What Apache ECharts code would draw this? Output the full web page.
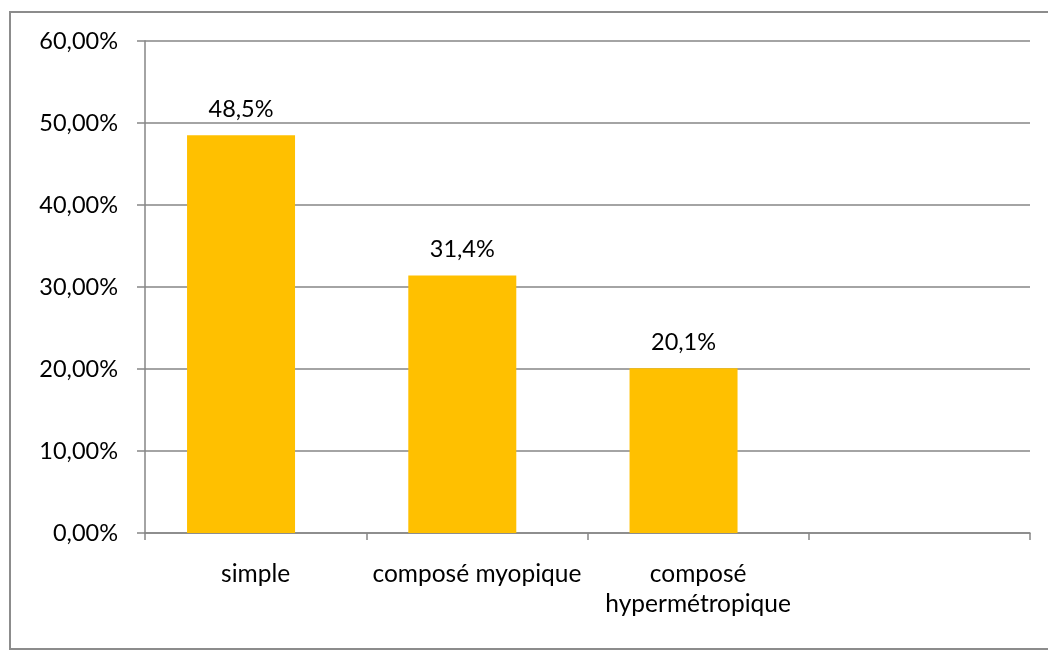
<!DOCTYPE html>
<html><head><meta charset="utf-8">
<script src="https://cdn.jsdelivr.net/npm/echarts@6/dist/echarts.min.js"></script>
<style>html,body{margin:0;padding:0;background:#fff}#c{width:1048px;height:650px}</style>
</head><body><div id="c"></div>
<script>
const categories = ['simple', 'composé myopique', 'composé\nhypermétropique', ''];
const values = [48.5, 31.4, 20.1, null];
const valueLabels = ['48,5%', '31,4%', '20,1%', ''];
const yTicks = [0, 10, 20, 30, 40, 50, 60];

const FONT = 'Lato';
const chart = echarts.init(document.getElementById('c'), null, {renderer: 'canvas'});
chart.setOption({
  animation: false,
  backgroundColor: '#fff',
  textStyle: {fontFamily: FONT},
  graphic: [{
    type: 'rect', silent: true, z: 100,
    shape: {x: 10, y: 12, width: 1045, height: 637},
    style: {fill: 'none', stroke: '#8c8c8c', lineWidth: 2}
  }],
  grid: {left: 145, right: 18, top: 41, bottom: 117},
  xAxis: {
    type: 'category', data: categories, boundaryGap: true,
    axisLine: {lineStyle: {color: '#868686', width: 1.5}},
    axisTick: {show: true, length: 7, alignWithLabel: false, lineStyle: {color: '#868686', width: 1.5}},
    axisLabel: {color: '#000', fontSize: 24.5, fontFamily: FONT, margin: 26, lineHeight: 30, interval: 0}
  },
  yAxis: {
    type: 'value', min: yTicks[0], max: yTicks[yTicks.length - 1], interval: 10,
    axisLine: {show: true, lineStyle: {color: '#868686', width: 1.5}},
    axisTick: {show: true, length: 8, lineStyle: {color: '#868686', width: 1.5}},
    splitLine: {lineStyle: {color: '#868686', width: 1.5}},
    axisLabel: {color: '#000', fontSize: 23.5, fontFamily: FONT, margin: 27,
      formatter: v => v.toFixed(2).replace('.', ',') + '%'}
  },
  series: [{
    type: 'bar', data: values, barWidth: 108, barGap: '-73%',
    itemStyle: {color: '#FFC000'},
    label: {show: true, position: 'top', distance: 14, color: '#000', fontSize: 23.5, fontFamily: FONT,
      formatter: p => valueLabels[p.dataIndex]}
  }, {
    type: 'bar', data: [null, null, null, null], barWidth: 108, itemStyle: {color: '#4F81BD'}
  }]
});
</script></body></html>
